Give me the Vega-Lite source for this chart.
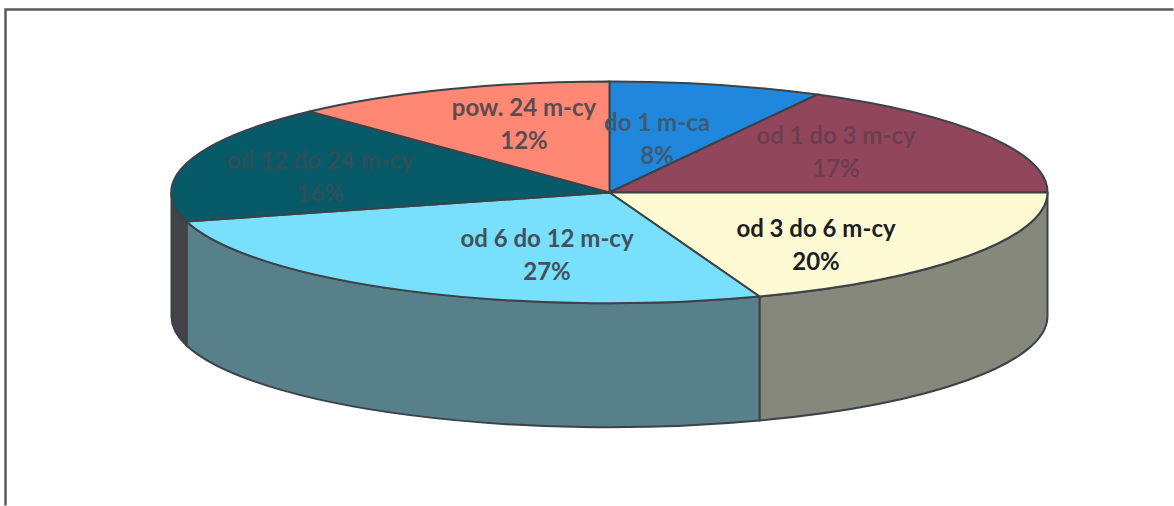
{
  "$schema": "https://vega.github.io/schema/vega-lite/v6.json",
  "width": 1174,
  "height": 506,
  "padding": 0,
  "autosize": {"type": "fit", "contains": "padding"},
  "background": "#ffffff",
  "config": {"view": {"stroke": null}},
  "datasets": {
    "slices": [
      {"slice": "do 1 m-ca", "share": 8, "shareText": "8%"},
      {"slice": "od 1 do 3 m-cy", "share": 17, "shareText": "17%"},
      {"slice": "od 3 do 6 m-cy", "share": 20, "shareText": "20%"},
      {"slice": "od 6 do 12 m-cy", "share": 27, "shareText": "27%"},
      {"slice": "od 12 do 24 m-cy", "share": 16, "shareText": "16%"},
      {"slice": "pow. 24 m-cy", "share": 12, "shareText": "12%"}
    ]
  },
  "layer": [
    {
      "data": {"values": [{"part": "frame"}]},
      "mark": {"type": "point", "shape": "M-577 257L-577 -239L591 -239", "size": 4, "filled": false, "fillOpacity": 0, "stroke": "#5a5a5a", "strokeWidth": 2.5, "opacity": 1},
      "encoding": {}
    },
    {
      "data": {"name": "slices"},
      "transform": [{"filter": "datum.share == 20 || datum.share == 27 || datum.share == 16"}],
      "mark": {"type": "point", "size": 4, "filled": true, "opacity": 1, "stroke": "#3c4248", "strokeWidth": 2},
      "encoding": {
        "shape": {"field": "slice", "type": "nominal", "legend": null, "scale": {
          "domain": ["od 3 do 6 m-cy", "od 6 do 12 m-cy", "od 12 do 24 m-cy"],
          "range": [
            "M177 48A438 111 0 0 0 465 -56L465 68A438 111 0 0 1 177 172Z",
            "M-396 -27A438 111 0 0 0 177 48L177 172A438 111 0 0 1 -396 97Z",
            "M-411 -56A438 111 0 0 0 -396 -27L-396 97A438 111 0 0 1 -411 68Z"
          ]
        }},
        "color": {"field": "slice", "type": "nominal", "legend": null, "scale": {
          "domain": ["od 3 do 6 m-cy", "od 6 do 12 m-cy", "od 12 do 24 m-cy"],
          "range": ["#86887c", "#58808a", "#43444a"]
        }}
      }
    },
    {
      "data": {"name": "slices"},
      "mark": {"type": "point", "size": 4, "filled": true, "opacity": 1, "stroke": "#3c4248", "strokeWidth": 2},
      "encoding": {
        "shape": {"field": "slice", "type": "nominal", "legend": null, "scale": {
          "domain": ["do 1 m-ca", "od 1 do 3 m-cy", "od 3 do 6 m-cy", "od 6 do 12 m-cy", "od 12 do 24 m-cy", "pow. 24 m-cy"],
          "range": [
            "M27 -56L27 -167A438 111 0 0 1 235 -154Z",
            "M27 -56L235 -154A438 111 0 0 1 465 -56Z",
            "M27 -56L465 -56A438 111 0 0 1 177 48Z",
            "M27 -56L177 48A438 111 0 0 1 -396 -27Z",
            "M27 -56L-396 -27A438 111 0 0 1 -273 -137Z",
            "M27 -56L-273 -137A438 111 0 0 1 27 -167Z"
          ]
        }},
        "color": {"field": "slice", "type": "nominal", "legend": null, "scale": {
          "domain": ["do 1 m-ca", "od 1 do 3 m-cy", "od 3 do 6 m-cy", "od 6 do 12 m-cy", "od 12 do 24 m-cy", "pow. 24 m-cy"],
          "range": ["#2088dc", "#92465c", "#fdfad4", "#78e0fb", "#075a68", "#ff8874"]
        }}
      }
    },
    {
      "data": {"name": "slices"},
      "layer": [
        {
          "mark": {"type": "text", "font": "Lato", "fontWeight": "bold", "fontSize": 24, "baseline": "middle", "align": "center"},
          "encoding": {"text": {"field": "slice", "type": "nominal"}}
        },
        {
          "mark": {"type": "text", "font": "Lato", "fontWeight": "bold", "fontSize": 24, "baseline": "middle", "align": "center", "dy": 33},
          "encoding": {"text": {"field": "shareText", "type": "nominal"}}
        }
      ],
      "encoding": {
        "x": {"field": "share", "type": "quantitative", "axis": null, "scale": {"domain": [8, 12, 16, 17, 20, 27], "range": [657, 524, 320, 836, 816, 547], "zero": false, "nice": false}},
        "y": {"field": "share", "type": "quantitative", "axis": null, "scale": {"domain": [8, 12, 16, 17, 20, 27], "range": [124, 109, 162, 137, 230, 240], "zero": false, "nice": false}},
        "color": {"field": "slice", "type": "nominal", "legend": null, "scale": {
          "domain": ["do 1 m-ca", "od 1 do 3 m-cy", "od 3 do 6 m-cy", "od 6 do 12 m-cy", "od 12 do 24 m-cy", "pow. 24 m-cy"],
          "range": ["#3d5a72", "#6c3e50", "#1e1e22", "#44505c", "#2e4f58", "#5c4c50"]
        }}
      }
    }
  ],
  "resolve": {"scale": {"color": "independent", "shape": "independent"}}
}
